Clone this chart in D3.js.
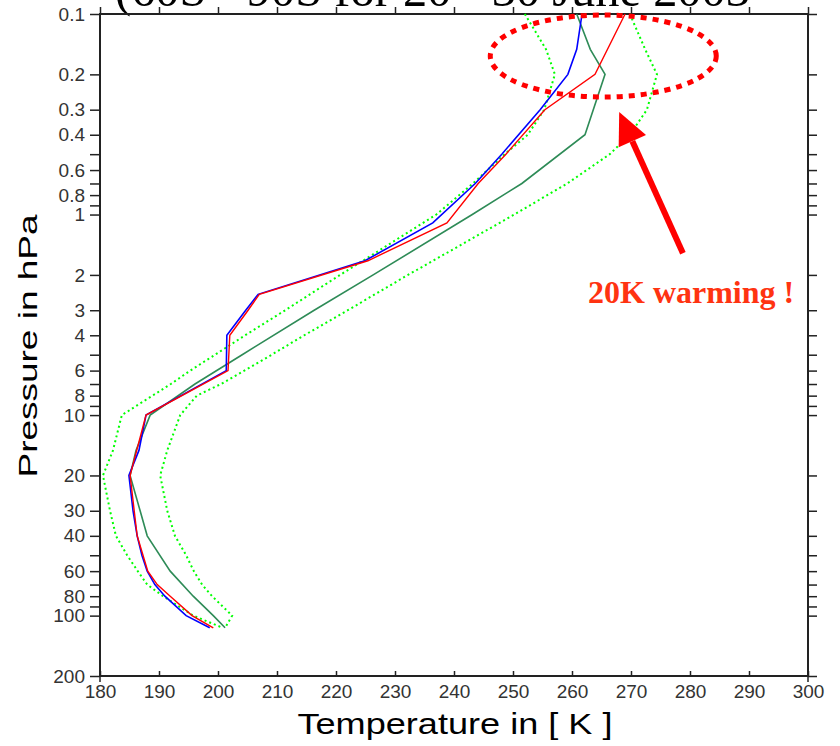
<!DOCTYPE html>
<meta charset="utf-8">
<script src="https://d3js.org/d3.v7.min.js"></script>
<style>
  body { margin: 0; background: #fff; }
</style>
<div id="my_dataviz"></div>
<script>

// Profiles: pressure levels (hPa) and temperatures (K)
var pBlue = [0.1, 0.15, 0.2, 0.3, 0.5, 0.7, 1.1, 1.7, 2.5, 3, 4, 6, 10, 15, 20, 30, 40, 50, 60, 70, 80, 100, 115];
var tBlue = [261.7, 260.8, 259.3, 254.6, 248.1, 243.6, 236.4, 224.9, 206.8, 204.7, 201.5, 201.4, 187.8, 186.6, 184.9, 185.6, 186.3, 187.1, 188.0, 189.3, 191.0, 194.6, 198.6];

var pRed = [0.1, 0.2, 0.3, 0.5, 0.7, 1.1, 1.7, 2.5, 3, 4, 6, 10, 20, 30, 40, 60, 70, 80, 100, 115];
var tRed = [269.0, 263.9, 255.4, 248.8, 244.1, 238.8, 225.4, 207.0, 205.1, 202.0, 201.7, 187.8, 185.1, 185.8, 186.3, 188.1, 189.7, 191.9, 195.6, 199.2];

var pMean = [0.1, 0.15, 0.2, 0.4, 0.7, 1, 2, 3, 5, 7, 10, 15, 20, 30, 40, 60, 80, 100, 115];
var tMean = [260.8, 263.1, 265.6, 262.2, 251.5, 243.1, 226.3, 216.3, 204.1, 196.1, 188.5, 186.1, 185.1, 186.8, 188.0, 191.9, 195.8, 199.2, 201.2];

var pLow = [0.1, 0.15, 0.2, 0.3, 0.4, 0.5, 0.7, 1, 1.5, 2, 3, 4, 5, 6, 7, 10, 15, 20, 30, 40, 50, 60, 70, 80, 100, 115];
var tLow = [252.0, 255.6, 257.1, 255.3, 252.5, 248.6, 243.2, 237.0, 227.5, 220.7, 211.4, 204.6, 199.5, 195.3, 192.0, 183.7, 182.2, 180.5, 181.7, 182.7, 184.6, 186.4, 188.0, 190.7, 195.8, 200.8];

var pHigh = [0.1, 0.15, 0.2, 0.3, 0.4, 0.5, 0.7, 1, 1.5, 2, 3, 4, 5, 7, 8, 10, 15, 20, 30, 40, 50, 60, 70, 80, 100, 115];
var tHigh = [269.8, 272.4, 274.4, 272.7, 269.8, 266.4, 259.2, 250.2, 239.7, 232.2, 222.0, 214.6, 209.1, 200.5, 196.4, 193.6, 191.4, 190.2, 191.4, 192.7, 194.6, 195.9, 197.3, 199.0, 202.4, 201.2];

// axis ticks
var tTicks = [180, 190, 200, 210, 220, 230, 240, 250, 260, 270, 280, 290, 300];
var pTicks = [0.1, 0.2, 0.3, 0.4, 0.5, 0.6, 0.7, 0.8, 0.9, 1, 2, 3, 4, 5, 6, 7, 8, 9, 10, 20, 30, 40, 50, 60, 70, 80, 90, 100, 200];
var pLabels = [0.1, 0.2, 0.3, 0.4, 0.6, 0.8, 1, 2, 3, 4, 6, 8, 10, 20, 30, 40, 60, 80, 100, 200];

// annotation anchors (K, hPa)
var ringCenter = [265.3, 0.162];
var arrowTail = [278.8, 1.56];
var arrowTip = [268.0, 0.308];

var svg = d3.select("#my_dataviz")
    .append("svg")
    .attr("width", 840)
    .attr("height", 746)
    .style("font-family", "'Liberation Sans', Arial, sans-serif");

var x = d3.scaleLinear().domain([180, 300]).range([100, 808]);
var y = d3.scaleLog().domain([0.1, 200]).range([14, 676]);

// title, cut at the top edge
svg.append("text")
    .attr("x", 115)
    .attr("y", 6)
    .attr("textLength", 635)
    .attr("lengthAdjust", "spacingAndGlyphs")
    .style("font-family", "'Liberation Serif', 'Times New Roman', serif")
    .style("font-size", "48px")
    .text("(60S - 90S for 20 - 30 June 2003");

// axes
svg.append("g")
    .attr("transform", "translate(100,0)")
    .call(d3.axisLeft(y).tickValues(pTicks).tickSize(10).tickPadding(5)
        .tickFormat(d => pLabels.indexOf(d) >= 0 ? String(d) : ""))
    .call(g => g.select(".domain").remove());

svg.append("g")
    .attr("transform", "translate(808,0)")
    .call(d3.axisRight(y).tickValues(pTicks).tickSize(9).tickFormat(""))
    .call(g => g.select(".domain").remove());

svg.append("g")
    .attr("transform", "translate(0,676)")
    .call(d3.axisBottom(x).tickValues(tTicks).tickSizeInner(-5).tickSizeOuter(0).tickPadding(9))
    .call(g => g.select(".domain").remove());

svg.append("g")
    .attr("transform", "translate(0,14)")
    .call(d3.axisTop(x).tickValues(tTicks).tickSize(7).tickFormat(""))
    .call(g => g.select(".domain").remove());

svg.selectAll(".tick line").attr("stroke", "#222").attr("stroke-width", 1.5);
svg.selectAll(".tick text").style("font-size", "19px").attr("fill", "#333")
    .style("font-family", "'Liberation Sans', Arial, sans-serif");

// frame
svg.append("rect")
    .attr("x", x(180)).attr("y", y(0.1))
    .attr("width", x(300) - x(180)).attr("height", y(200) - y(0.1))
    .attr("fill", "none").attr("stroke", "#222").attr("stroke-width", 2);

[180, 300].forEach(function (v) {
    svg.append("line")
        .attr("x1", x(v)).attr("x2", x(v))
        .attr("y1", y(200)).attr("y2", y(200) + 6)
        .attr("stroke", "#222").attr("stroke-width", 1.5);
});

// axis titles
svg.append("text")
    .attr("x", 455).attr("y", 734)
    .attr("text-anchor", "middle")
    .attr("textLength", 315)
    .attr("lengthAdjust", "spacingAndGlyphs")
    .style("font-size", "30px")
    .text("Temperature in [ K ]");

svg.append("text")
    .attr("transform", "translate(37,346) rotate(-90)")
    .attr("text-anchor", "middle")
    .attr("textLength", 263)
    .attr("lengthAdjust", "spacingAndGlyphs")
    .style("font-size", "26px")
    .text("Pressure in hPa");

// profiles
var line = d3.line()
    .x(d => x(d[1]))
    .y(d => y(d[0]));

var series = [
    { p: pLow, t: tLow, color: "#00ff00", dash: "2,3", w: 2 },
    { p: pHigh, t: tHigh, color: "#00ff00", dash: "2,3", w: 2 },
    { p: pMean, t: tMean, color: "#2e8b57", dash: null, w: 1.6 },
    { p: pBlue, t: tBlue, color: "#0000ff", dash: null, w: 1.6 },
    { p: pRed, t: tRed, color: "#ff0000", dash: null, w: 1.4 }
];

series.forEach(function (s) {
    svg.append("path")
        .datum(d3.zip(s.p, s.t))
        .attr("d", line)
        .attr("fill", "none")
        .attr("stroke", s.color)
        .attr("stroke-width", s.w)
        .attr("stroke-dasharray", s.dash);
});

// annotation: dotted ring, arrow and label
svg.append("ellipse")
    .attr("cx", x(ringCenter[0]))
    .attr("cy", y(ringCenter[1]))
    .attr("rx", 113)
    .attr("ry", 41)
    .attr("fill", "none")
    .attr("stroke", "#ff0000")
    .attr("stroke-width", 5)
    .attr("stroke-dasharray", "6,6");

var ax0 = x(arrowTail[0]), ay0 = y(arrowTail[1]);
var ax1 = x(arrowTip[0]), ay1 = y(arrowTip[1]);
var len = Math.hypot(ax1 - ax0, ay1 - ay0);
var ux = (ax1 - ax0) / len, uy = (ay1 - ay0) / len;
var headLen = 32, headHalf = 15;
var bx = ax1 - ux * headLen, by = ay1 - uy * headLen;

svg.append("line")
    .attr("x1", ax0).attr("y1", ay0)
    .attr("x2", bx).attr("y2", by)
    .attr("stroke", "#ff0000")
    .attr("stroke-width", 6);

svg.append("polygon")
    .attr("points", [
        [ax1, ay1],
        [bx - uy * headHalf, by + ux * headHalf],
        [bx + uy * headHalf, by - ux * headHalf]
    ].map(d => d.join(",")).join(" "))
    .attr("fill", "#ff0000");

svg.append("text")
    .attr("x", 588).attr("y", 303)
    .style("font-family", "'Liberation Serif', 'Times New Roman', serif")
    .style("font-weight", "bold")
    .style("font-size", "32px")
    .attr("fill", "#ff3311")
    .text("20K warming !");

</script>
